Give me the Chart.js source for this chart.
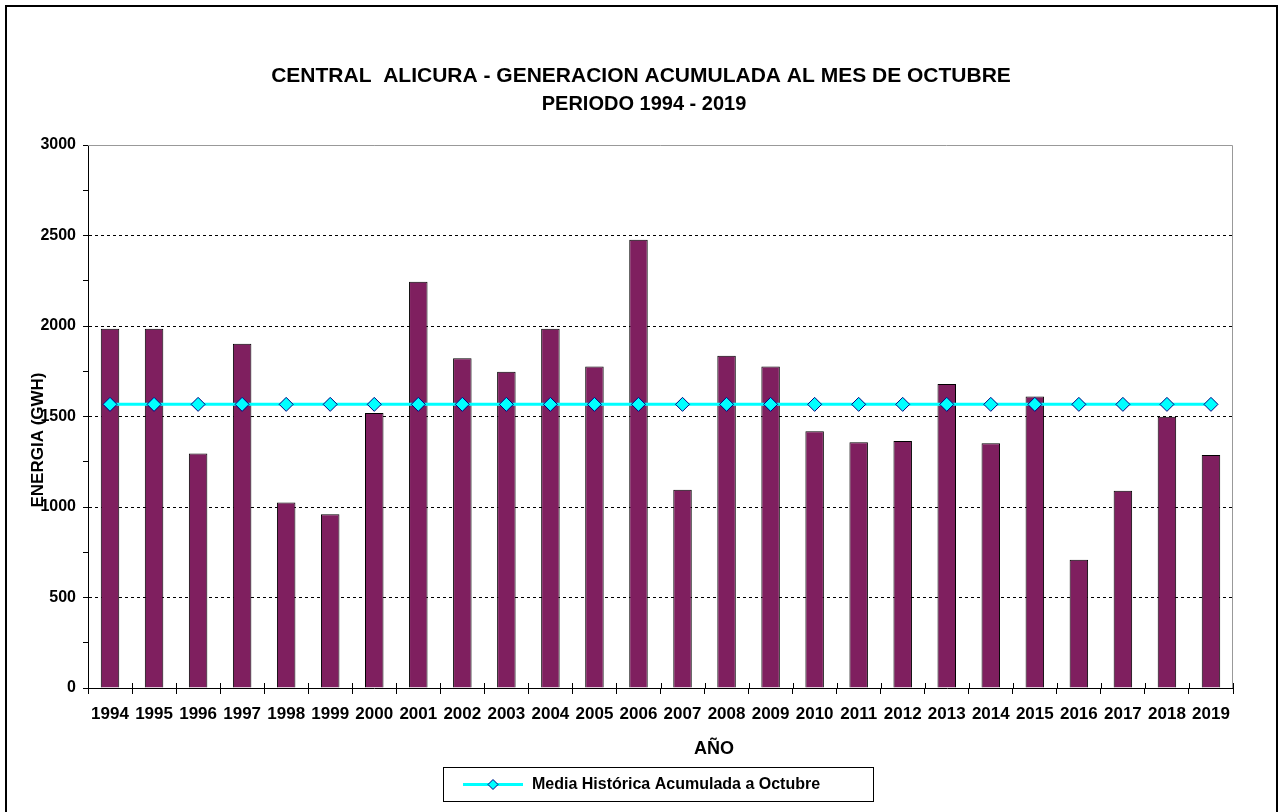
<!DOCTYPE html>
<html><head><meta charset="utf-8">
<script src="https://cdn.jsdelivr.net/npm/chart.js@4/dist/chart.umd.min.js"></script>
<style>html,body{margin:0;padding:0;background:#fff}#wrap{width:1279px;height:812px;position:relative}</style>
</head><body><div id="wrap"><canvas id="c" width="1279" height="812"></canvas></div>
<script>
const years = ['1994','1995','1996','1997','1998','1999','2000','2001','2002','2003','2004','2005','2006','2007','2008','2009','2010','2011','2012','2013','2014','2015','2016','2017','2018','2019'];
const generation = [1985,1985,1295,1902,1025,960,1520,2245,1822,1747,1985,1776,2477,1095,1836,1776,1418,1358,1365,1680,1352,1611,708,1090,1499,1287];
const historicalMean = [1567,1567,1567,1567,1567,1567,1567,1567,1567,1567,1567,1567,1567,1567,1567,1567,1567,1567,1567,1567,1567,1567,1567,1567,1567,1567];
const yMin = 0, yMax = 3000, yStep = 250, yLabelStep = 500;
const titleLines = ['CENTRAL  ALICURA - GENERACION ACUMULADA AL MES DE OCTUBRE', 'PERIODO 1994 - 2019'];
const yTitle = 'ENERGIA (GWH)';
const xTitle = 'AÑO';
const meanLabel = 'Media Histórica Acumulada a Octubre';

const FONT = "'Liberation Sans', Arial, sans-serif";

const decor = {
  id: 'decor',
  afterDraw(chart) {
    const ctx = chart.ctx;
    const a = chart.chartArea;
    ctx.save();
    // plot area gray border (top/right)
    ctx.strokeStyle = '#999';
    ctx.lineWidth = 1;
    ctx.beginPath();
    ctx.moveTo(a.left, a.top + 0.5);
    ctx.lineTo(a.right - 0.5, a.top + 0.5);
    ctx.lineTo(a.right - 0.5, a.bottom);
    ctx.stroke();
    // x-axis tick marks crossing upward
    ctx.strokeStyle = '#000';
    ctx.beginPath();
    for (let i = 0; i <= years.length; i++) {
      const px = Math.round(a.left + (a.right - a.left) * i / years.length) + 0.5;
      ctx.moveTo(px, a.bottom - 5);
      ctx.lineTo(px, a.bottom);
    }
    ctx.stroke();
    // outer frame
    ctx.strokeStyle = '#000';
    ctx.lineWidth = 2;
    ctx.strokeRect(6, 6, 1271, 820);
    // title
    ctx.fillStyle = '#000';
    ctx.textAlign = 'center';
    ctx.textBaseline = 'middle';
    ctx.font = 'bold 21px ' + FONT;
    ctx.fillText(titleLines[0], 641, 76);
    ctx.font = 'bold 20px ' + FONT;
    ctx.fillText(titleLines[1], 644, 104);
    // x title
    ctx.font = 'bold 18px ' + FONT;
    ctx.fillText(xTitle, 714, 749);
    // y title
    ctx.save();
    ctx.font = 'bold 17px ' + FONT;
    ctx.translate(38, 440);
    ctx.rotate(-Math.PI / 2);
    ctx.fillText(yTitle, 0, 0);
    ctx.restore();
    // legend
    ctx.lineWidth = 1;
    ctx.strokeStyle = '#000';
    ctx.strokeRect(443.5, 767.5, 430, 34);
    ctx.strokeStyle = '#00FFFF';
    ctx.lineWidth = 3;
    ctx.beginPath();
    ctx.moveTo(463, 784.5);
    ctx.lineTo(523, 784.5);
    ctx.stroke();
    ctx.beginPath();
    ctx.moveTo(493, 779.5); ctx.lineTo(498, 784.5); ctx.lineTo(493, 789.5); ctx.lineTo(488, 784.5); ctx.closePath();
    ctx.fillStyle = '#00FFFF';
    ctx.fill();
    ctx.lineWidth = 1;
    ctx.strokeStyle = '#000080';
    ctx.stroke();
    ctx.fillStyle = '#000';
    ctx.textAlign = 'left';
    ctx.font = 'bold 16px ' + FONT;
    ctx.fillText(meanLabel, 532, 785);
    ctx.restore();
  }
};

new Chart(document.getElementById('c'), {
  type: 'bar',
  data: {
    labels: years,
    datasets: [
      {
        type: 'line',
        label: meanLabel,
        data: historicalMean,
        borderColor: '#00FFFF',
        borderWidth: 3,
        pointStyle: 'rectRot',
        pointRadius: 7,
        pointBackgroundColor: '#00FFFF',
        pointBorderColor: '#000080',
        pointBorderWidth: 1,
        fill: false,
        tension: 0,
        order: 0
      },
      {
        type: 'bar',
        label: 'Generación',
        data: generation,
        backgroundColor: '#7F1F5F',
        borderColor: '#000',
        borderWidth: 1,
        barPercentage: 0.42,
        categoryPercentage: 1,
        order: 1
      }
    ]
  },
  options: {
    responsive: false,
    animation: false,
    devicePixelRatio: 1,
    layout: { padding: { left: 0, right: 46, top: 145, bottom: 84 } },
    plugins: { legend: { display: false }, title: { display: false }, tooltip: { enabled: false } },
    scales: {
      x: {
        offset: true,
        grid: { offset: true, drawOnChartArea: false, color: '#000', tickLength: 6 },
        border: { color: '#000', width: 1 },
        ticks: { font: { family: FONT, size: 17, weight: 'bold' }, color: '#000', padding: 10, maxRotation: 0, autoSkip: false },
        afterFit(s) { s.height = 40; }
      },
      y: {
        min: yMin, max: yMax,
        ticks: {
          stepSize: yStep,
          callback: v => (v % yLabelStep === 0 ? String(v) : ''),
          font: { family: FONT, size: 16, weight: 'bold' }, color: '#000', padding: 7
        },
        grid: {
          color: c => (c.tick && c.tick.value % yLabelStep === 0 && c.tick.value > yMin && c.tick.value < yMax) ? '#000' : 'rgba(0,0,0,0)',
          tickColor: '#000', tickLength: 5, lineWidth: 1
        },
        border: { color: '#000', width: 1, dash: [3, 3] },
        afterFit(s) { s.width = 88; }
      }
    }
  },
  plugins: [decor]
});
</script></body></html>
